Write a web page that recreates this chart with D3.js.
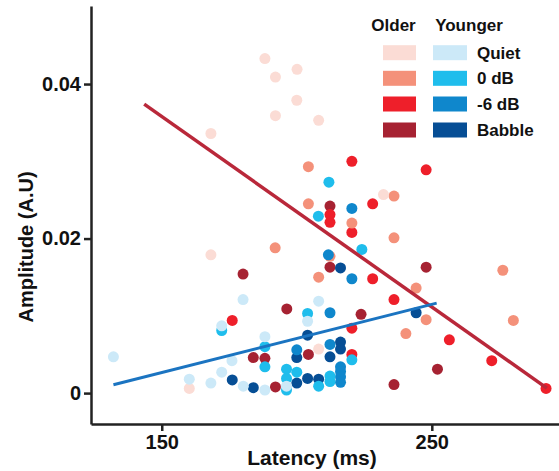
<!DOCTYPE html>
<html>
<head>
<meta charset="utf-8">
<script src="https://cdn.jsdelivr.net/npm/d3@7"></script>
<style>
  html, body { margin: 0; padding: 0; background: #fff; }
  svg { display: block; }
  text { font-family: "Liberation Sans", Arial, Helvetica, sans-serif; fill: #111; }
</style>
</head>
<body>
<svg id="chart" width="559" height="471"></svg>
<script>
// Conditions and groups
const conditions = ["Quiet", "0 dB", "-6 dB", "Babble"];
const groups = ["Older", "Younger"];

const olderColors = ["#fbdcd5", "#f4917a", "#ee1f2a", "#a62232"];
const youngerColors = ["#cce9f8", "#1fbdec", "#0f87cc", "#064e95"];

// [latency (ms), amplitude (A.U)]
const olderQuiet = [
  [188.2, 0.0433], [192.1, 0.0409], [200.1, 0.0419], [200.0, 0.0379],
  [192.1, 0.0359], [208.1, 0.0353], [168.2, 0.0336], [232.1, 0.0257],
  [168.2, 0.0179], [208.1, 0.0057], [160.2, 0.0006]
];
const older0dB = [
  [204.3, 0.0293], [236.0, 0.0255], [204.3, 0.0245], [220.4, 0.0220],
  [236.0, 0.0201], [192.0, 0.0188], [212.3, 0.0177], [276.3, 0.0159],
  [208.1, 0.0150], [244.2, 0.0136], [247.9, 0.0095], [280.2, 0.0094],
  [240.4, 0.0077]
];
const olderMinus6dB = [
  [220.4, 0.0300], [247.9, 0.0289], [228.1, 0.0245], [212.3, 0.0231],
  [212.3, 0.0221], [220.4, 0.0208], [228.1, 0.0148], [236.0, 0.0121],
  [176.1, 0.0094], [220.4, 0.0084], [256.5, 0.0069], [220.4, 0.0050],
  [272.2, 0.0042], [292.3, 0.0006]
];
const olderBabble = [
  [212.3, 0.0242], [247.9, 0.0163], [212.3, 0.0163], [180.1, 0.0154],
  [196.3, 0.0109], [223.8, 0.0102], [252.1, 0.0031], [204.3, 0.0050],
  [183.9, 0.0046], [188.2, 0.0045], [192.1, 0.0008], [236.0, 0.0011]
];
const youngerQuiet = [
  [180.1, 0.0121], [208.1, 0.0119], [204.0, 0.0093], [172.2, 0.0087],
  [188.2, 0.0073], [132.1, 0.0047], [176.0, 0.0042], [172.2, 0.0027],
  [160.2, 0.0018], [168.2, 0.0013], [180.2, 0.0009], [188.2, 0.0004],
  [196.2, 0.0009]
];
const younger0dB = [
  [211.9, 0.0273], [208.0, 0.0229], [224.1, 0.0186], [204.0, 0.0103],
  [172.2, 0.0081], [188.2, 0.0060], [220.4, 0.0043], [188.2, 0.0034],
  [196.2, 0.0031], [200.0, 0.0027], [196.2, 0.0019], [212.3, 0.0022],
  [212.3, 0.0015], [196.2, 0.0004], [208.1, 0.0009]
];
const youngerMinus6dB = [
  [220.4, 0.0239], [211.7, 0.0179], [220.4, 0.0148], [212.3, 0.0104],
  [212.3, 0.0063], [200.0, 0.0056], [216.2, 0.0034], [216.2, 0.0028],
  [216.2, 0.0021], [216.2, 0.0014]
];
const youngerBabble = [
  [216.2, 0.0162], [244.2, 0.0104], [204.0, 0.0075], [216.2, 0.0066],
  [216.2, 0.0057], [200.0, 0.0046], [212.3, 0.0047], [176.1, 0.0017],
  [183.9, 0.0007], [200.0, 0.0013], [204.0, 0.0019], [208.1, 0.0018]
];

// Linear fits, drawn between their end points
const olderFit = [[143.5, 0.0374], [292.6, 0.00065]];
const youngerFit = [[132.1, 0.00107], [251.8, 0.01165]];

const xTicks = [150, 250];
const yTicks = [0, 0.02, 0.04];

const svg = d3.select("#chart");

const x = d3.scaleLinear().domain([123.8, 297.1]).range([91, 559]);
const y = d3.scaleLinear().domain([-0.004, 0.0501]).range([424, 6]);

// Points: older groups, then younger groups (lighter conditions on top)
const series = [
  { data: olderBabble, color: olderColors[3] },
  { data: olderMinus6dB, color: olderColors[2] },
  { data: older0dB, color: olderColors[1] },
  { data: olderQuiet, color: olderColors[0] },
  { data: youngerBabble, color: youngerColors[3] },
  { data: youngerMinus6dB, color: youngerColors[2] },
  { data: younger0dB, color: youngerColors[1] },
  { data: youngerQuiet, color: youngerColors[0] }
];

const pts = svg.append("g");
series.forEach(s => {
  pts.selectAll(null)
    .data(s.data)
    .join("circle")
    .attr("cx", d => x(d[0]))
    .attr("cy", d => y(d[1]))
    .attr("r", 5.5)
    .attr("fill", s.color);
});

// Regression lines
const line = d3.line().x(d => x(d[0])).y(d => y(d[1]));
svg.append("path").datum(olderFit).attr("d", line)
  .attr("fill", "none").attr("stroke", "#b9283a").attr("stroke-width", 3.5);
svg.append("path").datum(youngerFit).attr("d", line)
  .attr("fill", "none").attr("stroke", "#1b74c1").attr("stroke-width", 3);

// Axes
const xAxis = svg.append("g")
  .attr("transform", `translate(0,${y.range()[0]})`)
  .call(d3.axisBottom(x).tickValues(xTicks).tickSize(7).tickSizeOuter(0).tickPadding(4));
const yAxis = svg.append("g")
  .attr("transform", `translate(${x.range()[0]},0)`)
  .call(d3.axisLeft(y).tickValues(yTicks).tickSize(7).tickSizeOuter(0).tickPadding(3)
    .tickFormat(d => d === 0 ? "0" : d.toFixed(2)));

[xAxis, yAxis].forEach(a => {
  a.select(".domain").attr("stroke", "#222").attr("stroke-width", 2.5);
  a.selectAll(".tick line").attr("stroke", "#222").attr("stroke-width", 2.5);
  a.selectAll(".tick text")
    .attr("font-size", 20).attr("font-weight", "bold")
    .style("font-family", "'Liberation Sans', Arial, sans-serif").attr("fill", "#111");
});

// Axis titles
svg.append("text")
  .attr("x", 312).attr("y", 465)
  .attr("text-anchor", "middle")
  .attr("font-size", 21).attr("font-weight", "bold")
  .text("Latency (ms)");
svg.append("text")
  .attr("transform", "translate(33,247) rotate(-90)")
  .attr("text-anchor", "middle")
  .attr("font-size", 20).attr("font-weight", "bold")
  .text("Amplitude (A.U)");

// Legend
const legend = svg.append("g");
const rowY = [52.7, 78.3, 104, 130];
legend.append("text").attr("x", 393.5).attr("y", 31)
  .attr("text-anchor", "middle").attr("font-size", 17).attr("font-weight", "bold").text(groups[0]);
legend.append("text").attr("x", 469).attr("y", 31)
  .attr("text-anchor", "middle").attr("font-size", 17).attr("font-weight", "bold").text(groups[1]);
conditions.forEach((c, i) => {
  legend.append("rect").attr("x", 383).attr("y", rowY[i] - 7.5)
    .attr("width", 33).attr("height", 15).attr("fill", olderColors[i]);
  legend.append("rect").attr("x", 433).attr("y", rowY[i] - 7.5)
    .attr("width", 34).attr("height", 15).attr("fill", youngerColors[i]);
  legend.append("text").attr("x", 477).attr("y", rowY[i] + 6)
    .attr("font-size", 17).attr("font-weight", "bold").text(c);
});
</script>
</body>
</html>
